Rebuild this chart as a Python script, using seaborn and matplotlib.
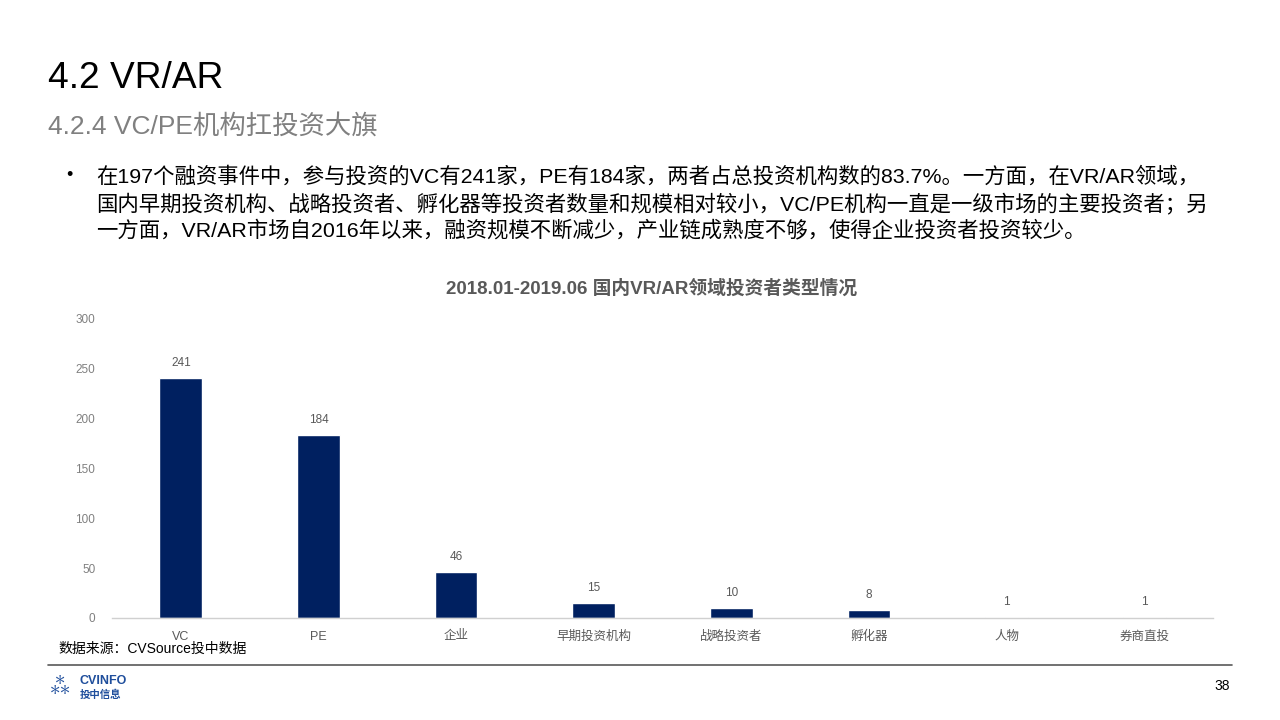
import matplotlib
matplotlib.use('Agg')
import matplotlib.pyplot as plt
import seaborn as sns
import pandas as pd

# 数据
categories = ['VC', 'PE', '企业', '早期投资机构', '战略投资者', '孵化器', '人物', '券商直投']
counts = [241, 184, 46, 15, 10, 8, 1, 1]
yticks = [0, 50, 100, 150, 200, 250, 300]

df = pd.DataFrame({'type': categories, 'count': counts})

sns.set_theme(style='white')
plt.rcParams['font.family'] = ['Liberation Sans', 'Noto Sans CJK SC', 'DejaVu Sans']

fig = plt.figure(figsize=(12.8, 7.2), dpi=100)

# 页眉
fig.text(48/1280, 1 - 78/720, '4.2 VR/AR', fontsize=26.7, color='black', va='center', ha='left')
fig.text(48/1280, 1 - 126/720, '4.2.4 VC/PE机构扛投资大旗', fontsize=19, color='#808080', va='center', ha='left')

# 正文
body = ['在197个融资事件中，参与投资的VC有241家，PE有184家，两者占总投资机构数的83.7%。一方面，在VR/AR领域，',
        '国内早期投资机构、战略投资者、孵化器等投资者数量和规模相对较小，VC/PE机构一直是一级市场的主要投资者；另',
        '一方面，VR/AR市场自2016年以来，融资规模不断减少，产业链成熟度不够，使得企业投资者投资较少。']
fig.text(66/1280, 1 - 176/720, '•', fontsize=13, color='black', va='center', ha='left')
for i, line in enumerate(body):
    fig.text(96/1280, 1 - (176 + 27 * i)/720, line, fontsize=15.4, color='black', va='center', ha='left')

# 柱状图
ax = fig.add_axes([112/1280, 1 - 618/720, (1213 - 112)/1280, (618 - 319)/720])
sns.barplot(data=df, x='type', y='count', color='#002060', width=0.31, saturation=1, ax=ax)

for i, v in enumerate(counts):
    ax.text(i, v + 9, str(v), ha='center', va='bottom', fontsize=8.5, color='#595959')

ax.set_ylim(0, 300)
ax.set_xlim(-0.5, len(categories) - 0.5)
ax.set_yticks(yticks)
ax.set_yticklabels([str(t) for t in yticks])
ax.tick_params(axis='y', labelsize=8.5, labelcolor='#808080', length=0, pad=12)
ax.tick_params(axis='x', labelsize=9, labelcolor='#595959', length=0, pad=9)
ax.set_xlabel('')
ax.set_ylabel('')
for s in ['top', 'right', 'left']:
    ax.spines[s].set_visible(False)
ax.spines['bottom'].set_color('#d0d0d0')
ax.spines['bottom'].set_linewidth(1)

fig.text(652/1280, 1 - 289/720, '2018.01-2019.06 国内VR/AR领域投资者类型情况',
         fontsize=13.5, fontweight='bold', color='#595959', ha='center', va='center')

# 页脚
fig.text(58/1280, 1 - 649/720, '数据来源：CVSource投中数据', fontsize=10, color='black', va='center', ha='left')
fig.add_artist(plt.Line2D([48/1280, 1232/1280], [1 - 665/720, 1 - 665/720], color='#595959', linewidth=1.2))
fig.text(80/1280, 1 - 681/720, 'CVINFO', fontsize=9, fontweight='bold', color='#1f4e9c', va='center', ha='left')
fig.text(80/1280, 1 - 695/720, '投中信息', fontsize=7.5, fontweight='bold', color='#1f4e9c', va='center', ha='left')
fig.text(60/1280, 1 - 688/720, '⁂', fontsize=16, color='#1f4e9c', va='center', ha='center')
fig.text(1222/1280, 1 - 686/720, '38', fontsize=10, color='black', va='center', ha='center')

fig.savefig('out.png', dpi=100)
